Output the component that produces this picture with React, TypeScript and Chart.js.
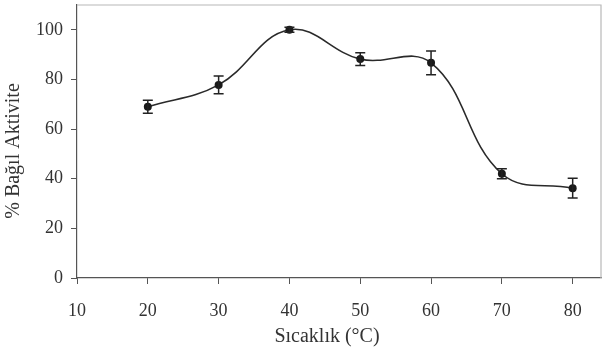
import React, { useEffect, useRef } from "react";
import { Chart, registerables } from "chart.js";

Chart.register(...registerables);

const temps = [20, 30, 40, 50, 60, 70, 80];
const activity = [69, 77.8, 100, 88.2, 86.7, 42, 36.2];
const errors = [2.6, 3.6, 1, 2.6, 4.8, 2, 4];
const xTitle = "Sıcaklık (°C)";
const yTitle = "% Bağıl Aktivite";

const FONT = "'Liberation Serif', 'Times New Roman', serif";

const decorPlugin = {
  id: "decor",
  beforeDatasetsDraw(chart: any) {
    const { ctx, chartArea } = chart;
    ctx.save();
    ctx.strokeStyle = "#b8b8b8";
    ctx.lineWidth = 1.2;
    ctx.beginPath();
    ctx.moveTo(chartArea.left, chartArea.top);
    ctx.lineTo(chartArea.right, chartArea.top);
    ctx.lineTo(chartArea.right, chartArea.bottom);
    ctx.stroke();
    ctx.restore();
  },
  afterDatasetsDraw(chart: any) {
    const { ctx, scales } = chart;
    const xs = scales.x;
    const ys = scales.y;
    ctx.save();
    ctx.strokeStyle = "#222";
    ctx.lineWidth = 1.5;
    temps.forEach((t, i) => {
      const x = xs.getPixelForValue(t);
      const yt = ys.getPixelForValue(activity[i] + errors[i]);
      const yb = ys.getPixelForValue(activity[i] - errors[i]);
      ctx.beginPath();
      ctx.moveTo(x, yt);
      ctx.lineTo(x, yb);
      ctx.moveTo(x - 5, yt);
      ctx.lineTo(x + 5, yt);
      ctx.moveTo(x - 5, yb);
      ctx.lineTo(x + 5, yb);
      ctx.stroke();
    });
    ctx.fillStyle = "#333";
    ctx.font = `20px ${FONT}`;
    ctx.textAlign = "center";
    ctx.textBaseline = "middle";
    ctx.fillText(xTitle, 327, 337);
    ctx.translate(14, 151);
    ctx.rotate(-Math.PI / 2);
    ctx.fillText(yTitle, 0, 0);
    ctx.restore();
  },
};

export default function App() {
  const ref = useRef<HTMLCanvasElement>(null);
  useEffect(() => {
    const chart = new Chart(ref.current!, {
      type: "line",
      data: {
        datasets: [
          {
            data: temps.map((t, i) => ({ x: t, y: activity[i] })),
            borderColor: "#2a2a2a",
            borderWidth: 1.6,
            tension: 0.4,
            pointRadius: 4,
            pointBackgroundColor: "#1a1a1a",
            pointBorderColor: "#1a1a1a",
            pointBorderWidth: 0,
          },
        ],
      },
      options: {
        animation: false,
        responsive: false,
        maintainAspectRatio: false,
        layout: { padding: { top: 5, right: 2, left: 0, bottom: 0 } },
        plugins: { legend: { display: false }, tooltip: { enabled: false } },
        scales: {
          x: {
            type: "linear",
            min: 10,
            max: 84,
            afterFit: (s: any) => {
              s.height = 76;
              s.paddingLeft = 0;
              s.paddingRight = 0;
            },
            ticks: {
              stepSize: 10,
              includeBounds: false,
              color: "#333",
              font: { family: FONT, size: 18 },
              padding: 16,
              maxRotation: 0,
            },
            grid: {
              drawOnChartArea: false,
              drawTicks: true,
              tickLength: 6,
              color: "#555",
            },
            border: { color: "#555", width: 1.2 },
          },
          y: {
            min: 0,
            max: 110,
            afterFit: (s: any) => {
              s.width = 77;
              s.paddingTop = 0;
              s.paddingBottom = 0;
            },
            ticks: {
              stepSize: 20,
              includeBounds: false,
              color: "#333",
              font: { family: FONT, size: 18 },
              padding: 8,
            },
            grid: {
              drawOnChartArea: false,
              drawTicks: true,
              tickLength: 6,
              color: "#555",
            },
            border: { color: "#555", width: 1.2 },
          },
        },
      },
      plugins: [decorPlugin],
    });
    return () => chart.destroy();
  }, []);
  return (
    <div style={{ position: "fixed", left: 0, top: 0, width: 605, height: 354, background: "#fff" }}>
      <canvas ref={ref} width={605} height={354} style={{ width: 605, height: 354 }} />
    </div>
  );
}
